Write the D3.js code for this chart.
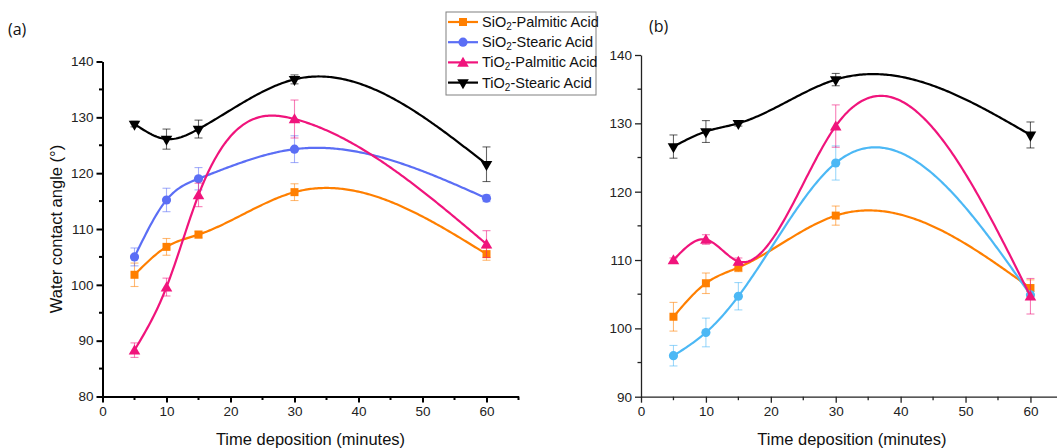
<!DOCTYPE html>
<html>
<head>
<meta charset="utf-8">
<script src="https://cdn.jsdelivr.net/npm/d3@7"></script>
<style>
  html, body { margin: 0; padding: 0; background: #fff; }
  svg { display: block; font-family: "Liberation Sans", Arial, sans-serif; }
</style>
</head>
<body>
<svg id="chart" width="1057" height="448"></svg>
<script>
// Deposition times (minutes)
const times = [5, 10, 15, 30, 60];

// Series names (chemical formula split so the "2" can be subscripted)
const seriesNames = [
  ["SiO", "2", "-Palmitic Acid"],
  ["SiO", "2", "-Stearic Acid"],
  ["TiO", "2", "-Palmitic Acid"],
  ["TiO", "2", "-Stearic Acid"]
];

// Panel (a): water contact angle (°) and error
const aSiO2Palmitic    = [101.8, 106.8, 109.0, 116.6, 105.5];
const aSiO2PalmiticErr = [2.1, 1.5, 0.6, 1.5, 1.1];
const aSiO2Stearic     = [105.0, 115.2, 119.0, 124.3, 115.5];
const aSiO2StearicErr  = [1.6, 2.1, 2.0, 2.4, 0.6];
const aTiO2Palmitic    = [88.3, 99.6, 116.1, 129.7, 107.3];
const aTiO2PalmiticErr = [1.3, 1.6, 2.1, 3.4, 2.4];
const aTiO2Stearic     = [128.8, 126.1, 127.9, 136.8, 121.6];
const aTiO2StearicErr  = [0.5, 1.8, 1.6, 0.8, 3.1];

// Panel (b): water contact angle (°) and error
const bSiO2Palmitic    = [101.7, 106.6, 108.9, 116.5, 105.9];
const bSiO2PalmiticErr = [2.1, 1.5, 0.6, 1.4, 1.2];
const bSiO2Stearic     = [96.0, 99.4, 104.7, 124.2, 104.9];
const bSiO2StearicErr  = [1.5, 2.1, 2.0, 2.5, 0.5];
const bTiO2Palmitic    = [110.0, 113.0, 109.8, 129.6, 104.7];
const bTiO2PalmiticErr = [0.3, 0.7, 0.5, 3.1, 2.6];
const bTiO2Stearic     = [126.6, 128.8, 130.0, 136.4, 128.3];
const bTiO2StearicErr  = [1.7, 1.6, 0.4, 0.9, 1.9];

// Axis ticks
const xTicks = [0, 10, 20, 30, 40, 50, 60];
const xMinor = [5, 15, 25, 35, 45, 55, 65];
const yTicksA = [80, 90, 100, 110, 120, 130, 140];
const yTicksB = [90, 100, 110, 120, 130, 140];

const svg = d3.select("#chart");

// Natural cubic spline y(x) through the measured points
function naturalSpline(xs, ys) {
  const n = xs.length;
  const h = [], alpha = [0];
  for (let i = 0; i < n - 1; i++) h.push(xs[i + 1] - xs[i]);
  for (let i = 1; i < n - 1; i++)
    alpha.push(3 / h[i] * (ys[i + 1] - ys[i]) - 3 / h[i - 1] * (ys[i] - ys[i - 1]));
  const l = [1], mu = [0], z = [0];
  for (let i = 1; i < n - 1; i++) {
    l[i] = 2 * (xs[i + 1] - xs[i - 1]) - h[i - 1] * mu[i - 1];
    mu[i] = h[i] / l[i];
    z[i] = (alpha[i] - h[i - 1] * z[i - 1]) / l[i];
  }
  const c = new Array(n).fill(0), b = [], d = [];
  for (let j = n - 2; j >= 0; j--) {
    c[j] = z[j] - mu[j] * c[j + 1];
    b[j] = (ys[j + 1] - ys[j]) / h[j] - h[j] * (c[j + 1] + 2 * c[j]) / 3;
    d[j] = (c[j + 1] - c[j]) / (3 * h[j]);
  }
  return x => {
    let j = 0;
    while (j < n - 2 && x > xs[j + 1]) j++;
    const t = x - xs[j];
    return ys[j] + b[j] * t + c[j] * t * t + d[j] * t * t * t;
  };
}

function splinePoints(xs, ys) {
  const f = naturalSpline(xs, ys);
  const pts = [];
  for (let x = xs[0]; x <= xs[xs.length - 1] + 1e-9; x += 0.25) pts.push([x, f(x)]);
  return pts;
}

const symbols = {
  square:   d3.symbol().type(d3.symbolSquare).size(64),
  circle:   d3.symbol().type(d3.symbolCircle).size(66),
  triUp:    d3.symbol().type(d3.symbolTriangle).size(58),
  triDown:  d3.symbol().type(d3.symbolTriangle).size(58)
};

function drawMarker(g, kind, color, x, y) {
  g.append("path")
    .attr("d", symbols[kind]())
    .attr("transform", `translate(${x},${y})` + (kind === "triDown" ? " rotate(180)" : "") + (kind === "triUp" ? " translate(0,1)" : ""))
    .attr("fill", color);
}

function drawPanel(cfg) {
  const g = svg.append("g");
  const x = d3.scaleLinear().domain([0, 65]).range(cfg.xRange);
  const y = d3.scaleLinear().domain(cfg.yDomain).range(cfg.yRange);

  // bottom axis
  const xAxis = g.append("g").attr("transform", `translate(0,${cfg.yRange[0]})`);
  xAxis.call(d3.axisBottom(x).tickValues(xTicks).tickSize(6).tickSizeOuter(0).tickPadding(4).tickFormat(d3.format("d")));
  xAxis.append("g").selectAll("line").data(xMinor).join("line")
    .attr("x1", d => x(d)).attr("x2", d => x(d)).attr("y1", 0).attr("y2", 3.5)
    .attr("stroke", cfg.axisColor).attr("stroke-width", cfg.axisWidth);

  // left axis
  const yAxis = g.append("g").attr("transform", `translate(${cfg.xRange[0]},0)`);
  yAxis.call(d3.axisLeft(y).tickValues(cfg.yTicks).tickSize(6).tickSizeOuter(0).tickPadding(3).tickFormat(d3.format("d")));
  const yMinor = cfg.yTicks.slice(0, -1).map(v => v + 5);
  yAxis.append("g").selectAll("line").data(yMinor).join("line")
    .attr("x1", 0).attr("x2", -3.5).attr("y1", d => y(d)).attr("y2", d => y(d))
    .attr("stroke", cfg.axisColor).attr("stroke-width", cfg.axisWidth);

  [xAxis, yAxis].forEach(a => {
    a.selectAll(".domain, .tick line").attr("stroke", cfg.axisColor).attr("stroke-width", cfg.axisWidth);
    a.selectAll("text").attr("font-size", 13.5).attr("fill", "#222")
      .attr("font-family", "'Liberation Sans', Arial, sans-serif");
  });

  // x title
  g.append("text")
    .attr("x", (cfg.xRange[0] + cfg.xRange[1]) / 2).attr("y", 445)
    .attr("text-anchor", "middle").attr("font-size", 16.5).attr("fill", "#111")
    .text("Time deposition (minutes)");

  // series: spline line, error bars, markers
  const line = d3.line().x(d => x(d[0])).y(d => y(d[1]));
  cfg.series.forEach(s => {
    const sg = g.append("g");
    sg.append("path")
      .attr("d", line(splinePoints(times, s.values)))
      .attr("fill", "none").attr("stroke", s.color).attr("stroke-width", 2.2);
    const eg = sg.append("g").attr("stroke", s.errColor).attr("stroke-width", 1.1);
    times.forEach((t, i) => {
      const cx = x(t), v = s.values[i], e = s.err[i];
      const y1 = y(v + e), y2 = y(v - e);
      eg.append("line").attr("x1", cx).attr("x2", cx).attr("y1", y1).attr("y2", y2);
      eg.append("line").attr("x1", cx - 4).attr("x2", cx + 4).attr("y1", y1).attr("y2", y1);
      eg.append("line").attr("x1", cx - 4).attr("x2", cx + 4).attr("y1", y2).attr("y2", y2);
    });
    times.forEach((t, i) => drawMarker(sg, s.marker, s.color, x(t), y(s.values[i])));
  });
  return g;
}

const orange = "#ff7f00", blueA = "#5b6ef5", pink = "#f0147c", blueB = "#4cb8f5", black = "#000000";

drawPanel({
  xRange: [102.5, 518.5], yDomain: [80, 140], yRange: [396.5, 61.5], yTicks: yTicksA,
  axisColor: "#000", axisWidth: 2,
  series: [
    { values: aSiO2Palmitic, err: aSiO2PalmiticErr, color: orange, errColor: "rgba(255,127,0,0.55)", marker: "square" },
    { values: aSiO2Stearic,  err: aSiO2StearicErr,  color: blueA,  errColor: "rgba(91,110,245,0.55)", marker: "circle" },
    { values: aTiO2Palmitic, err: aTiO2PalmiticErr, color: pink,   errColor: "rgba(240,20,124,0.55)", marker: "triUp" },
    { values: aTiO2Stearic,  err: aTiO2StearicErr,  color: black,  errColor: "rgba(0,0,0,0.6)", marker: "triDown" }
  ]
});

drawPanel({
  xRange: [641, 1062.9], yDomain: [90, 140], yRange: [396.7, 55], yTicks: yTicksB,
  axisColor: "#222", axisWidth: 1.3,
  series: [
    { values: bSiO2Palmitic, err: bSiO2PalmiticErr, color: orange, errColor: "rgba(255,127,0,0.55)", marker: "square" },
    { values: bSiO2Stearic,  err: bSiO2StearicErr,  color: blueB,  errColor: "rgba(76,184,245,0.55)", marker: "circle" },
    { values: bTiO2Palmitic, err: bTiO2PalmiticErr, color: pink,   errColor: "rgba(240,20,124,0.55)", marker: "triUp" },
    { values: bTiO2Stearic,  err: bTiO2StearicErr,  color: black,  errColor: "rgba(0,0,0,0.6)", marker: "triDown" }
  ]
});

// y-axis title (panel a)
svg.append("text")
  .attr("transform", "translate(56,229) rotate(-90)")
  .attr("text-anchor", "middle").attr("dominant-baseline", "central")
  .attr("font-size", 16.5).attr("fill", "#111")
  .text("Water contact angle (°)");

// panel letters
svg.append("text").attr("x", 8).attr("y", 35).attr("font-family", "'Open Sans', sans-serif")
  .attr("font-size", 16).attr("fill", "#111").text("(a)");
svg.append("text").attr("x", 649).attr("y", 32).attr("font-family", "'Open Sans', sans-serif")
  .attr("font-size", 16).attr("fill", "#111").text("(b)");

// legend
const legendColors = [orange, blueA, pink, black];
const legendMarkers = ["square", "circle", "triUp", "triDown"];
const legend = svg.append("g");
legend.append("rect").attr("x", 446).attr("y", 12).attr("width", 150).attr("height", 83)
  .attr("fill", "#fff").attr("stroke", "#808080").attr("stroke-width", 1);
seriesNames.forEach((name, i) => {
  const ly = 22 + i * 20.2;
  legend.append("line").attr("x1", 448).attr("x2", 478).attr("y1", ly).attr("y2", ly)
    .attr("stroke", legendColors[i]).attr("stroke-width", 2.2);
  drawMarker(legend, legendMarkers[i], legendColors[i], 463, ly);
  const t = legend.append("text").attr("x", 482).attr("y", ly).attr("dominant-baseline", "central")
    .attr("font-size", 14.5).attr("fill", "#111");
  t.append("tspan").text(name[0]);
  t.append("tspan").attr("dy", 4).attr("font-size", 10).text(name[1]);
  t.append("tspan").attr("dy", -4).text(name[2]);
});
</script>
</body>
</html>
